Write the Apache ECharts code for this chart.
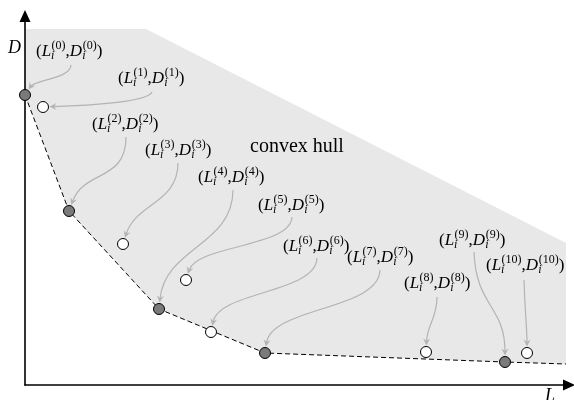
<!DOCTYPE html>
<html>
<head>
<meta charset="utf-8">
<script src="https://cdn.jsdelivr.net/npm/echarts@6/dist/echarts.min.js"></script>
<style>
  html, body { margin: 0; padding: 0; background: #fff; }
  #chart { width: 574px; height: 400px; }
</style>
</head>
<body>
<div id="chart"></div>
<script>
// Operating points (L, D) for k = 0..10
const pointL = [0, 18, 44, 98, 134, 161, 186, 240, 401, 480, 502];
const pointD = [290, 278, 174, 141, 76, 105, 53, 32, 33, 23, 32];
// Points on the lower convex hull (drawn filled)
const hullIdx = [0, 2, 4, 7, 9];
// Where the hull boundary leaves the plot on the right
const hullTailL = 541;
const hullTailD = 21;
// Outer corners of the shaded hull region
const regionL = [0, 121, 541, 541];
const regionD = [356, 356, 142, 21];
// Label anchors (left edge, baseline) for (L_i^(k), D_i^(k))
const labelL = [11, 93, 67, 120, 173, 233, 258, 322, 379, 414, 461];
const labelD = [329, 302, 256, 230, 203, 175, 134, 123, 97, 140, 115];
// Start of each leader arrow, just below its label
const arrowL = [46, 127, 101, 153, 208, 267, 292, 355, 412, 449, 499];
const arrowD = [320, 293, 248, 222, 195, 168, 127, 115, 88, 133, 105];

// Leader curve shapes: first control offset (px), arrival direction, second control length (px)
const arrowC1 = [[-1, 14], [-4, 10], [0, 45], [0, 40], [0, 55], [-1, 30], [-1, 35], [-1, 40], [0, 22], [2, 55], [1, 35]];
const arrowDir = [[-0.55, 0.83], [-1, 0.03], [-0.35, 0.94], [-0.3, 0.95], [-0.1, 1], [-0.3, 0.95], [-0.2, 0.98], [-0.15, 0.99], [-0.05, 1], [0, 1], [0, 1]];
const arrowC2 = [12, 40, 38, 36, 55, 30, 35, 40, 22, 50, 20];

const SERIF = '"Liberation Serif", "Times New Roman", serif';
const measureCtx = document.createElement('canvas').getContext('2d');
function fontStr(size, italic) {
  return (italic ? 'italic ' : '') + size + 'px ' + SERIF;
}
function textWidth(text, size, italic) {
  measureCtx.font = fontStr(size, italic);
  return measureCtx.measureText(text).width;
}
// distance from the middle line to the alphabetic baseline
function midToBase(size) {
  measureCtx.font = fontStr(size, false);
  measureCtx.textBaseline = 'middle';
  const m = measureCtx.measureText('H');
  measureCtx.textBaseline = 'alphabetic';
  return m.actualBoundingBoxDescent;
}
function textEl(text, x, baseline, size, italic, z) {
  return {
    type: 'text',
    x: x,
    y: baseline - midToBase(size),
    z: z || 0,
    style: {
      text: text,
      fontSize: size,
      fontFamily: SERIF,
      fontStyle: italic ? 'italic' : 'normal',
      fill: '#000',
      align: 'left',
      verticalAlign: 'middle'
    }
  };
}

const MAIN = 17, SMALL = 12;
function buildLabel(k, x, base) {
  const els = [];
  const put = (t, size, italic, dy) => {
    els.push(textEl(t, x, base + dy, size, italic));
    return textWidth(t, size, italic);
  };
  const scripts = () => {
    const sup = '(' + k + ')';
    const wSup = textWidth(sup, SMALL, false);
    const wSub = textWidth('i', SMALL, true);
    els.push(textEl(sup, x + 0.5, base - 7, SMALL, false));
    els.push(textEl('i', x, base + 3, SMALL, true));
    return Math.max(wSup, wSub) + 0.5;
  };
  x += put('(', MAIN, false, 0);
  x += put('L', MAIN, true, 0);
  x += scripts();
  x += put(',', MAIN, false, 0);
  x += put('D', MAIN, true, 0);
  x += scripts();
  put(')', MAIN, false, 0);
  return els;
}

const chart = echarts.init(document.getElementById('chart'));

const filled = hullIdx.map(i => [pointL[i], pointD[i]]);
const open = pointL.map((l, i) => [l, pointD[i], i]).filter(p => hullIdx.indexOf(p[2]) < 0).map(p => [p[0], p[1]]);
const hullLine = hullIdx.map(i => [pointL[i], pointD[i]]).concat([[hullTailL, hullTailD]]);

const axisCommon = {
  type: 'value',
  z: 3,
  axisLine: {
    show: true,
    symbol: ['none', 'triangle'],
    symbolSize: [11, 12],
    lineStyle: { color: '#000', width: 1.6 }
  },
  axisTick: { show: false },
  axisLabel: { show: false },
  splitLine: { show: false }
};

chart.setOption({
  animation: false,
  backgroundColor: '#fff',
  grid: { left: 25, right: 5, top: 16, bottom: 15 },
  xAxis: Object.assign({}, axisCommon, { min: 0, max: 544 }),
  yAxis: Object.assign({}, axisCommon, { min: 0, max: 369 }),
  graphic: [
    textEl('D', 8, 53, 18, true),
    textEl('L', 545, 401, 18, true),
    textEl('convex hull', 250, 152, 20, false)
  ].map(e => Object.assign(e, { z: 100 })),
  series: [
    {
      // shaded region above the convex hull
      type: 'custom',
      z: 1,
      silent: true,
      data: [[0, 0]],
      renderItem: (params, api) => {
        const pts = regionL.map((l, i) => api.coord([l, regionD[i]]));
        hullIdx.slice().reverse().forEach(i => pts.push(api.coord([pointL[i], pointD[i]])));
        return { type: 'polygon', shape: { points: pts }, style: { fill: '#e8e8e8' } };
      }
    },
    {
      // curved leader arrows from each label to its point
      type: 'custom',
      z: 2,
      silent: true,
      data: arrowL.map((l, i) => [l, arrowD[i], i]),
      renderItem: (params, api) => {
        const i = params.dataIndex;
        const s = api.coord([arrowL[i], arrowD[i]]);
        const c = api.coord([pointL[i], pointD[i]]);
        let dx = arrowDir[i][0], dy = arrowDir[i][1];
        const n = Math.hypot(dx, dy); dx /= n; dy /= n;
        const gap = 6.5;
        const tip = [c[0] - dx * gap, c[1] - dy * gap];
        const end = [tip[0] - dx * 4, tip[1] - dy * 4];
        const cp1 = [s[0] + arrowC1[i][0], s[1] + arrowC1[i][1]];
        const cp2 = [tip[0] - dx * arrowC2[i], tip[1] - dy * arrowC2[i]];
        const px = -dy, py = dx;
        const bx = tip[0] - dx * 7, by = tip[1] - dy * 7;
        const nx = tip[0] - dx * 4.5, ny = tip[1] - dy * 4.5;
        const col = '#b3b3b3';
        return {
          type: 'group',
          children: [
            {
              type: 'bezierCurve',
              shape: { x1: s[0], y1: s[1], cpx1: cp1[0], cpy1: cp1[1], cpx2: cp2[0], cpy2: cp2[1], x2: end[0], y2: end[1] },
              style: { stroke: col, lineWidth: 1.2, fill: null }
            },
            {
              type: 'polygon',
              shape: { points: [tip, [bx + px * 3.5, by + py * 3.5], [nx, ny], [bx - px * 3.5, by - py * 3.5]] },
              style: { fill: col }
            }
          ]
        };
      }
    },
    {
      type: 'line',
      z: 4,
      silent: true,
      data: hullLine,
      showSymbol: false,
      symbol: 'none',
      lineStyle: { color: '#000', width: 1, type: [5, 3] }
    },
    {
      type: 'scatter',
      z: 5,
      silent: true,
      data: filled,
      symbolSize: 11,
      itemStyle: { color: '#7a7a7a', borderColor: '#000', borderWidth: 1, opacity: 1 }
    },
    {
      type: 'scatter',
      z: 5,
      silent: true,
      data: open,
      symbolSize: 11,
      itemStyle: { color: '#fff', borderColor: '#000', borderWidth: 1, opacity: 1 }
    },
    {
      // (L_i^(k), D_i^(k)) labels
      type: 'custom',
      z: 6,
      silent: true,
      data: labelL.map((l, i) => [l, labelD[i], i]),
      renderItem: (params, api) => {
        const k = params.dataIndex;
        const p = api.coord([labelL[k], labelD[k]]);
        return { type: 'group', children: buildLabel(k, p[0], p[1]) };
      }
    }
  ]
});
</script>
</body>
</html>
